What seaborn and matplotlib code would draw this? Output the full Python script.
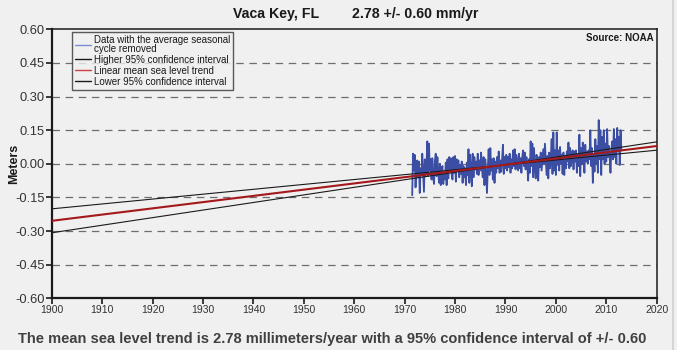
import numpy as np
import pandas as pd
import seaborn as sns
import matplotlib.pyplot as plt
from matplotlib.lines import Line2D

# Monthly mean sea level (seasonal cycle removed), sampled every two months, in mm
start_year = 1971.5
step = 1.0 / 6.0
msl_mm = [
    -140, 45, -30, 40, -105, -20,
    15, -60, 10, -130, -20, -50,
    45, -40, -125, 20, -50, -10,
    100, -55, 90, -30, 20, -70,
    25, -60, -90, 10, 45, -55,
    30, -40, -85, 0, -95, -30,
    -10, -90, -40, -70, 5, -95,
    20, -65, 30, -30, 25, -50,
    -70, 30, -40, 35, -80, 20,
    -20, 15, -60, -5, -45, 10,
    -85, -10, -60, -20, -95, 5,
    -50, 65, -85, 40, -20, -100,
    45, -60, 30, -25, 10, -45,
    45, -50, 15, -30, 50, -20,
    -60, 30, -95, 20, -40, -130,
    -20, 65, -50, 70, -30, 20,
    -70, 25, -85, 10, -40, 30,
    -20, 55, -40, 15, -35, 20,
    85, -45, 30, -20, 40, -30,
    30, -15, 45, -40, 20, -20,
    60, -10, 65, -25, 40, 5,
    -30, 45, -20, 25, -40, 30,
    60, -10, 50, -25, 30, -5,
    -75, 20, -40, 100, -10, 90,
    -60, 70, -20, -65, 40, 0,
    -75, 30, -15, 50, -30, 20,
    65, 0, 90, 20, -50, 35,
    -65, 50, -20, 30, 110, -45,
    140, -30, 60, -50, 140, -5,
    60, -30, 75, 0, 40, -45,
    50, -50, 30, -20, 55, 10,
    95, -20, 70, -10, 40, 60,
    -25, 55, 10, 60, -40, 40,
    -10, 130, -55, 70, 0, 95,
    20, -40, 85, 10, 55, 0,
    60, 20, 150, -10, 70, -85,
    40, -35, 110, 0, 80, -40,
    195, 20, 150, -50, 120, 20,
    150, 0, 90, 10, 155, 30,
    80, 30, -40, 60, 100, 20,
    155, 30, 110, 0, 160, 60,
    120, -5, 150, 60,
]

# Linear trend and its 95% confidence band (mm/yr)
trend_rate = 2.78
trend_ci = 0.60
trend_zero_year = 1991.5
ci_pivot_year = 1989.0
trend_years = [1900, 2020]

x_ticks = [1900, 1910, 1920, 1930, 1940, 1950, 1960, 1970, 1980, 1990, 2000, 2010, 2020]
y_ticks = [-0.60, -0.45, -0.30, -0.15, 0.00, 0.15, 0.30, 0.45, 0.60]

bg = "#f0f0f0"
sns.set_theme(style="ticks", rc={
    "figure.facecolor": bg,
    "axes.facecolor": bg,
    "savefig.facecolor": bg,
})
plt.rcParams["font.family"] = ["Liberation Sans", "DejaVu Sans"]

years = start_year + step * np.arange(len(msl_mm))
data = pd.DataFrame({"year": years, "msl": np.array(msl_mm) / 1000.0})

ty = np.array(trend_years, dtype=float)
mid = trend_rate * (ty - trend_zero_year) / 1000.0
pivot_val = trend_rate * (ci_pivot_year - trend_zero_year) / 1000.0
hi = pivot_val + (trend_rate + trend_ci) * (ty - ci_pivot_year) / 1000.0
lo = pivot_val + (trend_rate - trend_ci) * (ty - ci_pivot_year) / 1000.0
trend = pd.DataFrame({"year": ty, "mid": mid, "hi": hi, "lo": lo})

fig = plt.figure(figsize=(6.77, 3.5), dpi=100)
ax = fig.add_axes([0.0764, 0.1477, 0.8936, 0.7686])

# Dashed reference lines
for v in y_ticks[1:-1]:
    ax.axhline(v, color="#6e6e6e", lw=0.9, ls=(0, (6, 4.5)), zorder=0)

blue = "#3b4ea3"
red = "#a5181c"
sns.lineplot(data=data, x="year", y="msl", ax=ax, color=blue, lw=1.3, zorder=2)
sns.lineplot(data=trend, x="year", y="hi", ax=ax, color="#1a1a1a", lw=0.8, zorder=3)
sns.lineplot(data=trend, x="year", y="lo", ax=ax, color="#1a1a1a", lw=0.8, zorder=3)
sns.lineplot(data=trend, x="year", y="mid", ax=ax, color=red, lw=1.5, zorder=4)

ax.set_xlim(1900, 2020)
ax.set_ylim(-0.60, 0.60)
ax.set_xticks(x_ticks)
ax.set_yticks(y_ticks)
ax.set_xticklabels([str(t) for t in x_ticks], fontsize=7.5, color="#333333")
ax.set_yticklabels([f"{t:.2f}" for t in y_ticks], fontsize=9.3, color="#333333")
ax.tick_params(axis="both", direction="out", length=4, width=1.2, color="#1a1a1a", pad=1)
ax.set_xlabel("")
ax.set_ylabel("Meters", fontsize=9, fontweight="bold", color="#1a1a1a")
ax.yaxis.set_label_coords(-0.052, 0.5)

for side in ["left", "bottom"]:
    ax.spines[side].set_linewidth(1.6)
    ax.spines[side].set_color("#1a1a1a")
for side in ["top", "right"]:
    ax.spines[side].set_visible(True)
    ax.spines[side].set_linewidth(1.1)
    ax.spines[side].set_color("#1a1a1a")

handles = [
    Line2D([], [], color="#7c8ed0", lw=1.0),
    Line2D([], [], color="#1a1a1a", lw=1.0),
    Line2D([], [], color="#d04040", lw=1.0),
    Line2D([], [], color="#1a1a1a", lw=1.0),
]
labels = [
    "Data with the average seasonal\ncycle removed",
    "Higher 95% confidence interval",
    "Linear mean sea level trend",
    "Lower 95% confidence interval",
]
leg = ax.legend(handles, labels, loc="upper left", bbox_to_anchor=(0.034, 0.99),
                borderaxespad=0, fontsize=7, frameon=True, fancybox=False,
                handlelength=1.6, handletextpad=0.3, labelspacing=0.1,
                borderpad=0.3, facecolor=bg, edgecolor="#333333")
leg.get_frame().set_linewidth(1.0)
for t in leg.get_texts():
    t.set_linespacing(0.85)
    t.set_color("#1a1a1a")

ax.text(0.995, 0.985, "Source: NOAA", transform=ax.transAxes, ha="right", va="top",
        fontsize=7, fontweight="bold", color="#1a1a1a")

fig.text(0.344, 0.960, "Vaca Key, FL", ha="left", va="center",
         fontsize=10.2, fontweight="bold", color="#1a1a1a")
fig.text(0.52, 0.960, "2.78 +/- 0.60 mm/yr", ha="left", va="center",
         fontsize=10.2, fontweight="bold", color="#1a1a1a")
fig.text(0.027, 0.031,
         "The mean sea level trend is 2.78 millimeters/year with a 95% confidence interval of +/- 0.60",
         ha="left", va="center", fontsize=10.55, fontweight="bold", color="#404040")

# Thin panel edge on the right
fig.add_artist(Line2D([0.9945, 0.9945], [0.0, 1.0], transform=fig.transFigure,
                      color="#d0d0d0", lw=1.2))

fig.savefig("out.png", dpi=100)
